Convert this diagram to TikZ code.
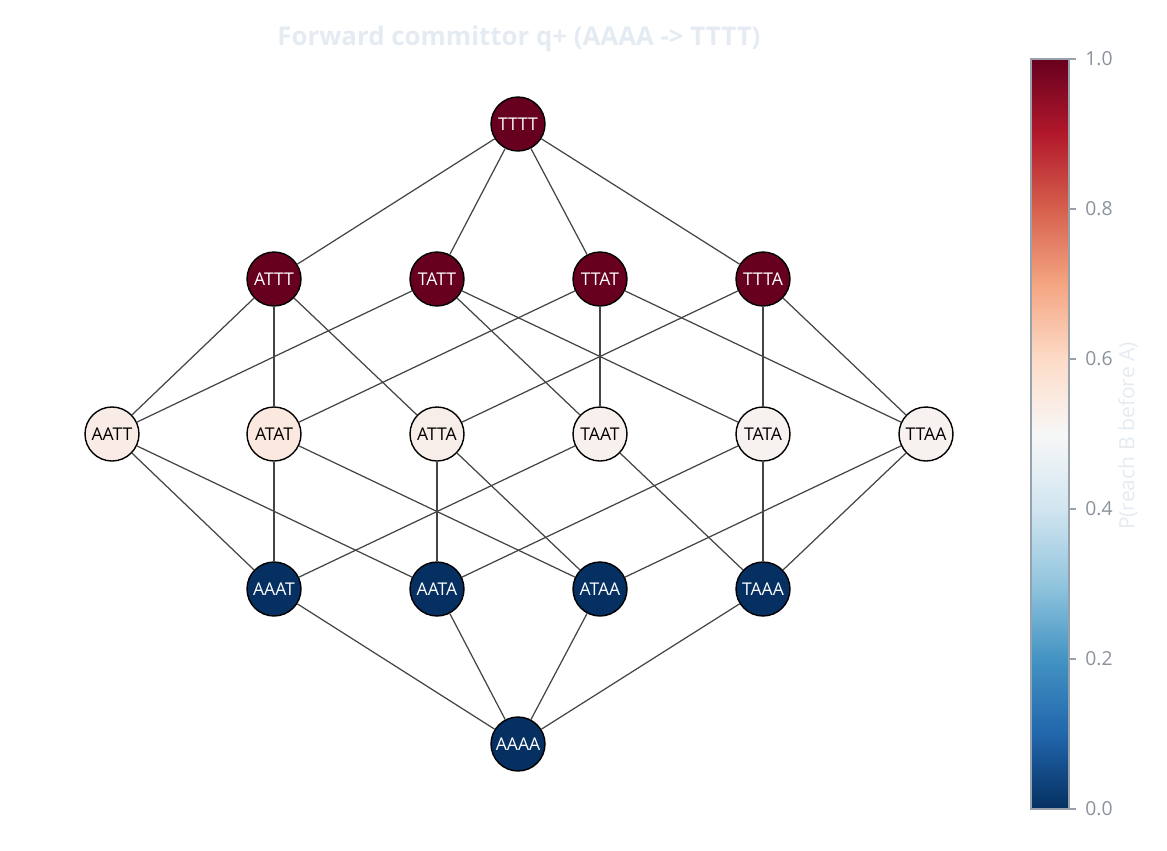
\documentclass[tikz,border=0pt]{standalone}
\usepackage{fontspec}
\setmainfont{Open Sans}
\usetikzlibrary{positioning}
\definecolor{qhi}{HTML}{67001F}
\definecolor{qlo}{HTML}{053061}
\definecolor{edgegray}{HTML}{444444}
\definecolor{tickgray}{HTML}{8B929C}
\definecolor{framegray}{HTML}{98A0AA}
\definecolor{faint}{HTML}{E5EBF2}
% RdBu reversed
\definecolor{cb0}{HTML}{053061}
\definecolor{cb1}{HTML}{2166AC}
\definecolor{cb2}{HTML}{4393C3}
\definecolor{cb3}{HTML}{92C5DE}
\definecolor{cb4}{HTML}{D1E5F0}
\definecolor{cb5}{HTML}{F7F7F7}
\definecolor{cb6}{HTML}{FDDBC7}
\definecolor{cb7}{HTML}{F4A582}
\definecolor{cb8}{HTML}{D6604D}
\definecolor{cb9}{HTML}{B2182B}
\definecolor{cb10}{HTML}{67001F}
\pgfdeclareverticalshading{rdbur}{100bp}{color(0bp)=(cb0); color(25bp)=(cb0);
  color(30bp)=(cb1); color(35bp)=(cb2); color(40bp)=(cb3); color(45bp)=(cb4);
  color(50bp)=(cb5); color(55bp)=(cb6); color(60bp)=(cb7); color(65bp)=(cb8);
  color(70bp)=(cb9); color(75bp)=(cb10); color(100bp)=(cb10)}
\begin{document}
\begin{tikzpicture}[x=0.02cm, y=-0.02cm,
  st/.style={draw=black, circle, line width=0.8pt, minimum size=1.08cm,
    inner sep=0pt, font=\fontsize{10}{10}\selectfont},
  hi/.style={st, fill=qhi, text=white},
  mid/.style={st, text=black},
  lo/.style={st, fill=qlo, text=white},
  edge/.style={draw=edgegray, line width=0.7pt},
  tick/.style={font=\fontsize{11}{11}\selectfont, text=tickgray, anchor=west, inner sep=0pt}]
  \useasboundingbox (0,0) rectangle (1167,850);
  % Title
  \node[font=\bfseries\fontsize{14.7}{14.7}\selectfont, text=faint] (title) at (519,39)
    {Forward committor q+ (AAAA -> TTTT)};
  % Top
  \node[hi] (TTTT) at (518,124) {TTTT};
  % Row 1
  \node[hi] (ATTT) at (274,279) {ATTT};
  \node[hi] (TATT) at (437,279) {TATT};
  \node[hi] (TTAT) at (600,279) {TTAT};
  \node[hi] (TTTA) at (763,279) {TTTA};
  % Row 2
  \node[mid, fill={rgb,255:red,249;green,236;blue,230}] (AATT) at (112,434) {AATT};
  \node[mid, fill={rgb,255:red,251;green,233;blue,223}] (ATAT) at (274,434) {ATAT};
  \node[mid, fill={rgb,255:red,248;green,238;blue,233}] (ATTA) at (437,434) {ATTA};
  \node[mid, fill={rgb,255:red,247;green,240;blue,237}] (TAAT) at (600,434) {TAAT};
  \node[mid, fill={rgb,255:red,247;green,242;blue,240}] (TATA) at (763,434) {TATA};
  \node[mid, fill={rgb,255:red,247;green,241;blue,239}] (TTAA) at (926,434) {TTAA};
  % Row 3
  \node[lo] (AAAT) at (274,589) {AAAT};
  \node[lo] (AATA) at (437,589) {AATA};
  \node[lo] (ATAA) at (600,589) {ATAA};
  \node[lo] (TAAA) at (763,589) {TAAA};
  % Bottom
  \node[lo] (AAAA) at (518,744) {AAAA};
  % Edges
  \foreach \a/\b in {TTTT/ATTT, TTTT/TATT, TTTT/TTAT, TTTT/TTTA,
      ATTT/AATT, ATTT/ATAT, ATTT/ATTA, TATT/AATT, TATT/TAAT, TATT/TATA,
      TTAT/ATAT, TTAT/TAAT, TTAT/TTAA, TTTA/ATTA, TTTA/TATA, TTTA/TTAA,
      AAAT/AATT, AAAT/ATAT, AAAT/TAAT, AATA/AATT, AATA/ATTA, AATA/TATA,
      ATAA/ATAT, ATAA/ATTA, ATAA/TTAA, TAAA/TAAT, TAAA/TATA, TAAA/TTAA,
      AAAA/AAAT, AAAA/AATA, AAAA/ATAA, AAAA/TAAA}
    \draw[edge] (\a) -- (\b);
  % Colorbar
  \shade[shading=rdbur] (1031,59) rectangle (1069,809);
  \draw[framegray, line width=0.8pt] (1031,59) rectangle (1069,809);
  \foreach \v [count=\i from 0] in {0.0,0.2,0.4,0.6,0.8,1.0} {
    \draw[framegray, line width=0.8pt] (1069,809-150*\i) -- (1076,809-150*\i);
    \node[tick] (t\i) at (1085,809-150*\i) {\v};
  }
  \node[rotate=90, font=\fontsize{12}{12}\selectfont, text=faint] (cblabel) at (1128,436)
    {P(reach B before A)};
\end{tikzpicture}
\end{document}
